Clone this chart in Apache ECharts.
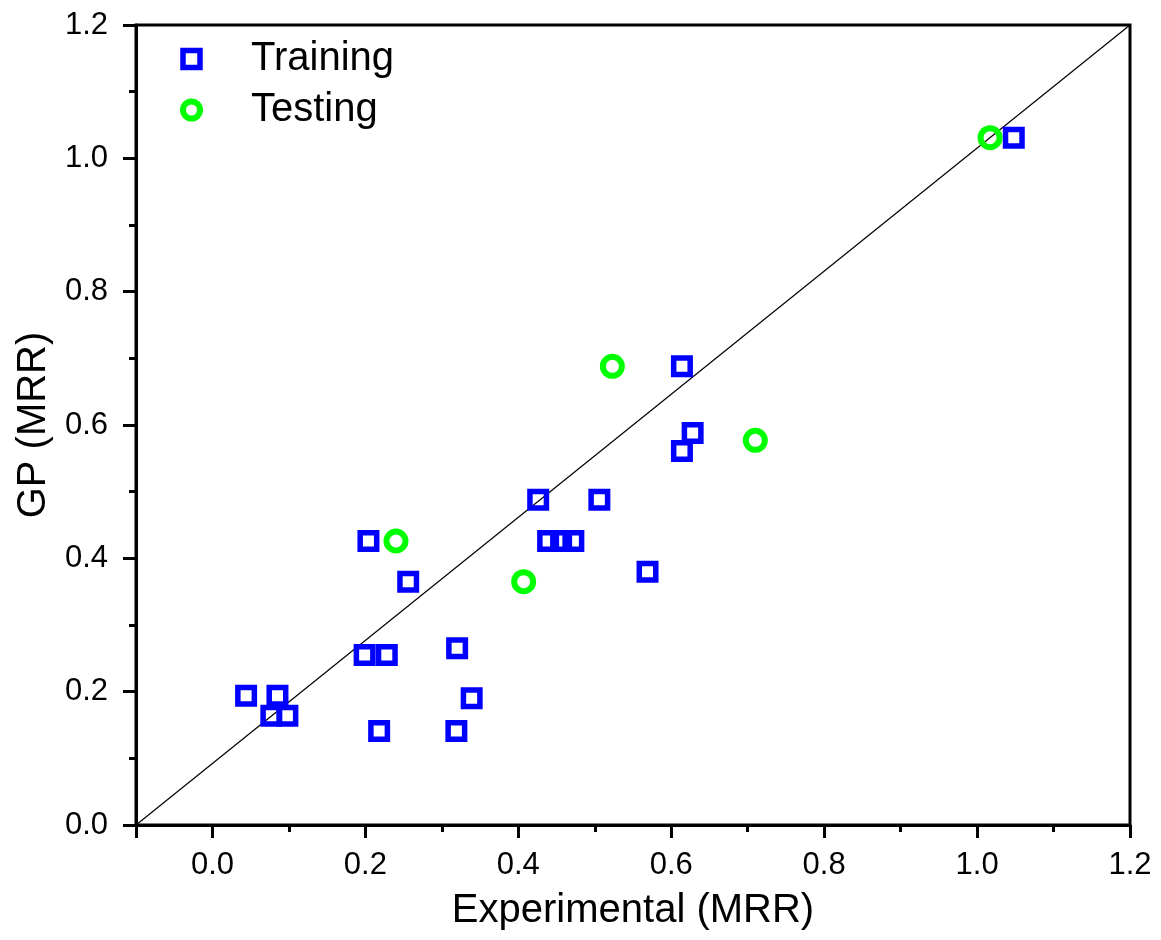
<!DOCTYPE html>
<html>
<head>
<meta charset="utf-8">
<script src="https://cdn.jsdelivr.net/npm/echarts@6/dist/echarts.min.js"></script>
<style>
  html, body { margin: 0; padding: 0; background: #fff; }
  #chart { width: 1161px; height: 940px; }
</style>
</head>
<body>
<div id="chart"></div>
<script>
// Training set: experimental vs GP-predicted MRR
const trainX = [0.044, 0.085, 0.077, 0.098, 0.199, 0.228, 0.320, 0.339, 0.218, 0.319,
                0.204, 0.256, 0.426, 0.506, 0.439, 0.456, 0.472, 0.569, 0.614, 0.628, 0.614, 1.048];
const trainY = [0.194, 0.194, 0.164, 0.164, 0.255, 0.255, 0.265, 0.190, 0.141, 0.141,
                0.426, 0.365, 0.488, 0.488, 0.426, 0.426, 0.426, 0.380, 0.688, 0.588, 0.561, 1.031];

// Testing set
const testX = [0.240, 0.407, 0.523, 0.710, 1.017];
const testY = [0.426, 0.365, 0.688, 0.577, 1.031];

// Reference diagonal, drawn corner to corner of the plot frame
const diagX = [-0.1, 1.2];
const diagY = [0.0, 1.2];

// Tick positions
const xMajorTicks = [-0.1, 0.0, 0.2, 0.4, 0.6, 0.8, 1.0, 1.2];
const xLabelTicks = [0.0, 0.2, 0.4, 0.6, 0.8, 1.0, 1.2];
const xMinorTicks = [0.1, 0.3, 0.5, 0.7, 0.9, 1.1];

const zip = (xs, ys) => xs.map((x, i) => [x, ys[i]]);

const FONT = 'Liberation Sans, Arial, sans-serif';
const BLUE = '#0000ff';
const GREEN = '#00ff00';

const chart = echarts.init(document.getElementById('chart'), null, { renderer: 'canvas' });

const frameLine = { show: true, lineStyle: { color: '#000', width: 3 } };

chart.setOption({
  backgroundColor: '#fff',
  animation: false,
  grid: {
    left: 136, right: 31, top: 25, bottom: 115,
    show: true, borderColor: '#000', borderWidth: 3, backgroundColor: 'transparent'
  },
  legend: {
    orient: 'vertical',
    left: 180, top: 39,
    padding: 0,
    itemGap: 11,
    itemWidth: 17, itemHeight: 17,
    textStyle: { fontFamily: FONT, fontSize: 40, color: '#000', padding: [0, 0, 0, 46] },
    data: [
      { name: 'Training', icon: 'rect',
        itemStyle: { color: 'transparent', borderColor: BLUE, borderWidth: 5.5 } },
      { name: 'Testing', icon: 'circle',
        itemStyle: { color: 'transparent', borderColor: GREEN, borderWidth: 6 } }
    ]
  },
  xAxis: [
    {
      type: 'value', min: -0.1, max: 1.2, position: 'bottom',
      name: 'Experimental (MRR)', nameLocation: 'middle', nameGap: 66,
      nameTextStyle: { fontFamily: FONT, fontSize: 40, color: '#000' },
      axisLine: { show: true, onZero: false, lineStyle: { color: '#000', width: 3 } },
      axisTick: { show: true, inside: false, length: 13, customValues: xMajorTicks,
                  lineStyle: { color: '#000', width: 3 } },
      axisLabel: { show: true, margin: 25, customValues: xLabelTicks,
                   fontFamily: FONT, fontSize: 31, color: '#000',
                   formatter: v => v.toFixed(1) },
      splitLine: { show: false }
    },
    {
      type: 'value', min: -0.1, max: 1.2, position: 'bottom',
      axisLine: { show: false, onZero: false },
      axisTick: { show: true, inside: false, length: 7, customValues: xMinorTicks,
                  lineStyle: { color: '#000', width: 3 } },
      axisLabel: { show: false },
      splitLine: { show: false }
    }
  ],
  yAxis: {
    type: 'value', min: 0, max: 1.2, interval: 0.2,
    name: 'GP (MRR)', nameLocation: 'middle', nameGap: 80,
    nameTextStyle: { fontFamily: FONT, fontSize: 40, color: '#000' },
    axisLine: { show: true, onZero: false, lineStyle: { color: '#000', width: 3 } },
    axisTick: { show: true, inside: false, length: 13, lineStyle: { color: '#000', width: 3 } },
    minorTick: { show: true, splitNumber: 2, length: 7, lineStyle: { color: '#000', width: 3 } },
    axisLabel: { margin: 28, fontFamily: FONT, fontSize: 31, color: '#000',
                 formatter: v => v.toFixed(1) },
    splitLine: { show: false },
    minorSplitLine: { show: false }
  },
  series: [
    {
      name: 'diagonal', type: 'line', xAxisIndex: 0, z: 1,
      data: zip(diagX, diagY),
      symbol: 'none', silent: true,
      lineStyle: { color: '#000', width: 1.2 }
    },
    {
      name: 'Training', type: 'scatter', xAxisIndex: 0, z: 3,
      data: zip(trainX, trainY),
      symbol: 'rect', symbolSize: 16.5,
      itemStyle: { color: 'transparent', borderColor: BLUE, borderWidth: 5.5, opacity: 1 }
    },
    {
      name: 'Testing', type: 'scatter', xAxisIndex: 0, z: 3,
      data: zip(testX, testY),
      symbol: 'circle', symbolSize: 19,
      itemStyle: { color: 'transparent', borderColor: GREEN, borderWidth: 6, opacity: 1 }
    }
  ]
});
</script>
</body>
</html>
